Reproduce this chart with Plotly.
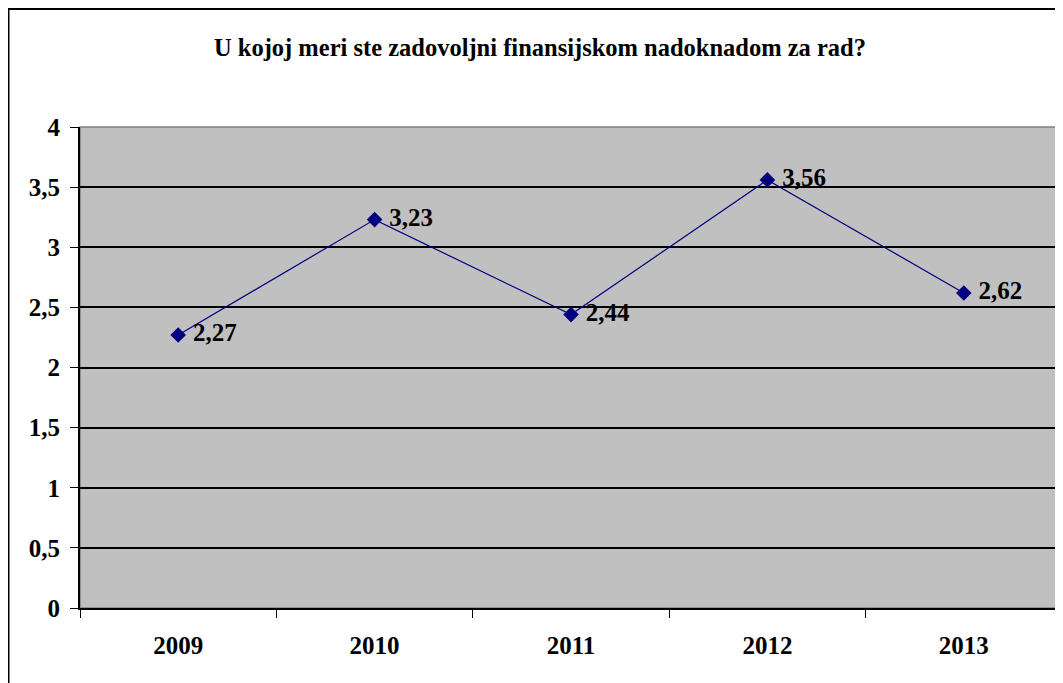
import plotly.graph_objects as go

years = ["2009", "2010", "2011", "2012", "2013"]
values = [2.27, 3.23, 2.44, 3.56, 2.62]
title_text = "U kojoj meri ste zadovoljni finansijskom nadoknadom za rad?"

FONT = "Liberation Serif, Times New Roman, serif"
# page body has an 8px margin; figure coordinates are offset by it
W, H = 1055, 675
L, R, T, B = 72, 1, 119, 75
pw = W - L - R
ph = H - T - B

fig = go.Figure()
fig.add_trace(go.Scatter(
    x=years, y=values,
    mode="lines+markers+text",
    line=dict(color="#000080", width=1.2),
    marker=dict(symbol="diamond", size=12, color="#000080"),
    texttemplate=" %{y:.2f}",
    textposition="middle right",
    textfont=dict(family=FONT, size=25, color="black", weight="bold"),
    cliponaxis=False,
    showlegend=False,
))

# plot area outer border (gray, top/right)
fig.add_shape(type="rect", xref="paper", yref="paper", x0=0, x1=1, y0=0, y1=1,
              line=dict(color="#808080", width=1.5), layer="below")
# chart outer border
bx = (0.5 - L) / pw
by = (H - B - 1) / ph
fig.add_shape(type="rect", xref="paper", yref="paper", x0=bx, x1=1.2, y0=-0.5, y1=by,
              line=dict(color="black", width=2))

fig.update_layout(
    width=W, height=H,
    margin=dict(l=L, r=R, t=T, b=B),
    paper_bgcolor="white",
    plot_bgcolor="#C0C0C0",
    separators=", ",
    title=dict(text="<b>" + title_text + "</b>", x=(532 - L) / pw, xref="paper",
               xanchor="center", y=1 - 39 / H, yanchor="middle",
               font=dict(family=FONT, size=24.5, color="black")),
    xaxis=dict(
        type="category", tickson="boundaries", ticks="outside", ticklen=8,
        tickcolor="black", showline=True, linecolor="black", linewidth=2,
        showgrid=False, range=[-0.5, 4.5],
        tickfont=dict(family=FONT, size=25, color="black", weight="bold"),
        ticklabelstandoff=14,
    ),
    yaxis=dict(
        range=[0, 4], dtick=0.5, ticks="outside", ticklen=8, tickcolor="black",
        showline=True, linecolor="black", linewidth=2,
        showgrid=True, gridcolor="black", gridwidth=1.5, zeroline=False,
        tickfont=dict(family=FONT, size=25, color="black", weight="bold"),
        ticklabelstandoff=5,
    ),
)

fig.write_html("out.html")
